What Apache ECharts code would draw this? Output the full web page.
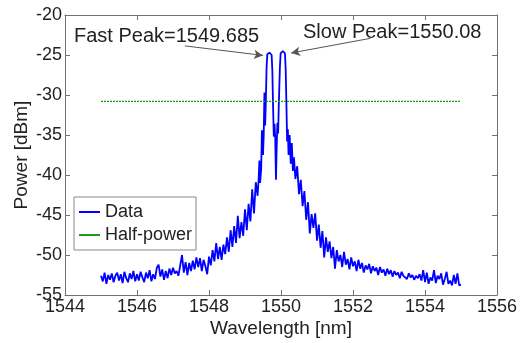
<!DOCTYPE html>
<html>
<head>
<meta charset="utf-8">
<script src="https://cdn.jsdelivr.net/npm/echarts@6/dist/echarts.min.js"></script>
<style>html,body{margin:0;padding:0;background:#fff;}#c{width:531px;height:343px;}</style>
</head>
<body>
<div id="c"></div>
<script>
// Measured spectrum [wavelength nm, power dBm]
const spectrum = [
[1545.00,-52.6],[1545.05,-53.3],[1545.10,-52.2],[1545.15,-53.6],[1545.20,-52.5],[1545.25,-53.1],[1545.30,-52.3],[1545.35,-53.4],[1545.40,-52.6],[1545.45,-52.2],
[1545.50,-53.2],[1545.55,-52.4],[1545.60,-53.5],[1545.65,-52.1],[1545.70,-52.9],[1545.75,-53.4],[1545.80,-52.3],[1545.85,-53.0],[1545.90,-52.0],[1545.95,-53.3],
[1546.00,-52.4],[1546.05,-53.2],[1546.10,-52.1],[1546.15,-52.8],[1546.20,-53.4],[1546.25,-52.2],[1546.30,-52.9],[1546.35,-51.9],[1546.40,-53.3],[1546.45,-52.4],
[1546.50,-53.0],[1546.55,-51.6],[1546.60,-51.2],[1546.65,-52.7],[1546.70,-51.8],[1546.75,-53.1],[1546.80,-52.0],[1546.85,-52.9],[1546.90,-51.7],[1546.95,-52.5],
[1547.00,-51.6],[1547.05,-52.3],[1547.10,-52.0],[1547.15,-52.6],[1547.20,-52.8],[1547.25,-50.0],[1547.30,-52.2],[1547.35,-50.9],[1547.40,-52.5],[1547.45,-51.0],
[1547.50,-52.0],[1547.55,-50.7],[1547.60,-51.8],[1547.65,-50.3],[1547.70,-51.5],[1547.75,-50.4],[1547.80,-52.0],[1547.85,-50.6],[1547.90,-51.4],[1547.95,-52.4],
[1548.00,-50.2],[1548.05,-51.3],[1548.10,-49.4],[1548.15,-50.8],[1548.20,-48.5],[1548.25,-50.5],[1548.30,-49.0],[1548.35,-50.6],[1548.40,-48.7],[1548.45,-49.9],
[1548.50,-47.8],[1548.55,-49.6],[1548.60,-46.9],[1548.65,-49.0],[1548.70,-46.4],[1548.75,-48.5],[1548.80,-45.1],[1548.85,-47.9],[1548.90,-45.9],[1548.95,-47.6],
[1549.00,-44.3],[1549.05,-46.9],[1549.10,-43.6],[1549.15,-45.8],[1549.20,-41.8],[1549.25,-44.8],[1549.30,-40.9],[1549.35,-42.6],
[1549.38,-40.4],[1549.40,-38.2],[1549.42,-41.0],[1549.45,-39.2],[1549.47,-34.4],[1549.50,-37.5],[1549.52,-35.0],[1549.54,-29.7],[1549.56,-33.8],[1549.58,-30.5],
[1549.60,-26.5],[1549.62,-24.9],[1549.65,-24.75],[1549.68,-24.7],[1549.71,-24.75],[1549.74,-25.0],[1549.76,-27.0],[1549.78,-31.5],[1549.80,-35.2],[1549.82,-33.6],
[1549.84,-35.4],[1549.86,-40.6],[1549.88,-36.5],[1549.90,-33.5],[1549.92,-34.8],[1549.94,-31.0],[1549.97,-26.5],[1549.99,-24.8],[1550.02,-24.55],[1550.05,-24.5],
[1550.08,-24.55],[1550.11,-24.8],[1550.13,-26.8],[1550.15,-31.0],[1550.17,-35.8],[1550.19,-34.3],[1550.21,-37.5],[1550.24,-35.0],[1550.27,-38.6],[1550.30,-36.0],
[1550.33,-39.5],[1550.36,-37.8],[1550.40,-40.5],
[1550.45,-38.9],[1550.50,-42.4],[1550.55,-40.6],[1550.60,-43.9],[1550.65,-42.0],[1550.70,-45.6],[1550.75,-43.4],[1550.80,-47.3],[1550.85,-44.9],[1550.90,-46.6],
[1550.95,-44.8],[1551.00,-48.2],[1551.05,-46.2],[1551.10,-49.1],[1551.15,-47.0],[1551.20,-50.3],[1551.25,-47.8],[1551.30,-49.6],[1551.35,-48.3],[1551.40,-50.4],
[1551.45,-49.0],[1551.50,-51.7],[1551.55,-49.4],[1551.60,-50.8],[1551.65,-50.0],[1551.70,-51.5],[1551.75,-49.6],[1551.80,-51.2],[1551.85,-50.5],[1551.90,-51.8],
[1551.95,-50.3],[1552.00,-51.4],[1552.05,-50.8],[1552.10,-52.0],[1552.15,-50.6],[1552.20,-51.7],[1552.25,-51.0],[1552.30,-52.2],[1552.35,-51.3],[1552.40,-51.8],
[1552.45,-51.1],[1552.50,-52.3],[1552.55,-51.4],[1552.60,-52.0],[1552.65,-51.6],[1552.70,-52.5],[1552.75,-51.5],[1552.80,-52.2],[1552.85,-51.8],[1552.90,-52.6],
[1552.95,-51.7],[1553.00,-52.4],[1553.05,-51.9],[1553.10,-52.7],[1553.15,-52.0],[1553.20,-52.5],[1553.25,-52.2],[1553.30,-52.9],[1553.35,-52.1],[1553.40,-52.6],
[1553.45,-52.4],[1553.50,-53.0],[1553.55,-52.3],[1553.60,-52.8],[1553.65,-52.5],[1553.70,-53.1],[1553.75,-52.6],[1553.80,-52.9],[1553.85,-52.4],[1553.90,-53.2],
[1553.95,-51.9],[1554.00,-53.4],[1554.05,-52.2],[1554.10,-53.6],[1554.15,-52.8],[1554.20,-53.2],[1554.25,-51.9],[1554.30,-53.5],[1554.35,-52.6],[1554.40,-53.0],
[1554.45,-52.3],[1554.50,-53.7],[1554.55,-53.0],[1554.60,-52.1],[1554.65,-53.6],[1554.70,-53.2],[1554.75,-53.8],[1554.80,-52.5],[1554.85,-53.6],[1554.90,-52.3],
[1554.95,-53.8],[1555.00,-53.7]
];
const halfPowerLevel = -30.8;
const halfPowerRange = [1545, 1555];
const fastPeak = 1549.685;
const slowPeak = 1550.08;
const fastArrow = [[1547.33,-23.86],[1549.50,-25.05]];
const slowArrow = [[1552.48,-22.92],[1550.28,-24.75]];
const xTicks = {min:1544, max:1556, interval:2};
const yTicks = {min:-55, max:-20, interval:5};

const FONT = 'Liberation Sans, Arial, sans-serif';
const axisCol = '#707070';
const chart = echarts.init(document.getElementById('c'), null, {renderer:'canvas'});
const common = {
  axisLine:{show:true, onZero:false, lineStyle:{color:axisCol, width:1}},
  axisTick:{show:true, inside:true, length:5, lineStyle:{color:axisCol}},
  splitLine:{show:false}
};
chart.setOption({
  animation:false,
  backgroundColor:'#fff',
  grid:{left:65, right:34, top:15, bottom:43, containLabel:false},
  xAxis:[
    Object.assign({type:'value', position:'bottom', min:xTicks.min, max:xTicks.max, interval:xTicks.interval,
      name:'Wavelength [nm]', nameLocation:'middle', nameGap:24, nameMoveOverlap:false,
      nameTextStyle:{fontFamily:FONT, fontSize:19, color:'#222'},
      axisLabel:{fontFamily:FONT, fontSize:18, color:'#222', margin:3, formatter:(v)=>String(v)}}, common),
    Object.assign({type:'value', position:'top', min:xTicks.min, max:xTicks.max, interval:xTicks.interval,
      axisLabel:{show:false}}, common)
  ],
  yAxis:[
    Object.assign({type:'value', position:'left', min:yTicks.min, max:yTicks.max, interval:yTicks.interval,
      name:'Power [dBm]', nameLocation:'middle', nameGap:34, nameMoveOverlap:false,
      nameTextStyle:{fontFamily:FONT, fontSize:19, color:'#222'},
      axisLabel:{fontFamily:FONT, fontSize:18, color:'#222', margin:3, formatter:(v)=>String(v)}}, common),
    Object.assign({type:'value', position:'right', min:yTicks.min, max:yTicks.max, interval:yTicks.interval,
      axisLabel:{show:false}}, common)
  ],
  legend:{
    orient:'vertical', left:74, top:197,
    backgroundColor:'#fff', borderColor:'#888', borderWidth:1,
    padding:[6,4,6,5], itemGap:5, itemWidth:21, itemHeight:2,
    icon:'rect',
    textStyle:{fontFamily:FONT, fontSize:18, color:'#222', lineHeight:18},
    data:['Data','Half-power']
  },
  series:[
    {name:'Data', type:'line', data:spectrum, symbol:'none', smooth:false,
     lineStyle:{color:'#0000ff', width:1.8}, itemStyle:{color:'#0000ff'},
     markLine:{silent:true, symbol:['none','arrow'], symbolSize:[7,9],
       label:{show:false},
       lineStyle:{color:'#555', width:1, type:'solid'},
       data:[
         [{coord:fastArrow[0]},{coord:fastArrow[1]}],
         [{coord:slowArrow[0]},{coord:slowArrow[1]}]
       ]}
    },
    {name:'Half-power', type:'line', symbol:'none',
     data:[[halfPowerRange[0],halfPowerLevel],[halfPowerRange[1],halfPowerLevel]],
     lineStyle:{color:'#1a9a1a', width:1.2, type:[2,1]}, itemStyle:{color:'#1a9a1a'}}
  ],
  graphic:[
    {type:'text', left:74, top:26, style:{text:'Fast Peak=' + fastPeak, fontFamily:FONT, fontSize:20, fill:'#222'}},
    {type:'text', left:303, top:22, style:{text:'Slow Peak=' + slowPeak, fontFamily:FONT, fontSize:20, fill:'#222'}}
  ]
});
</script>
</body>
</html>
